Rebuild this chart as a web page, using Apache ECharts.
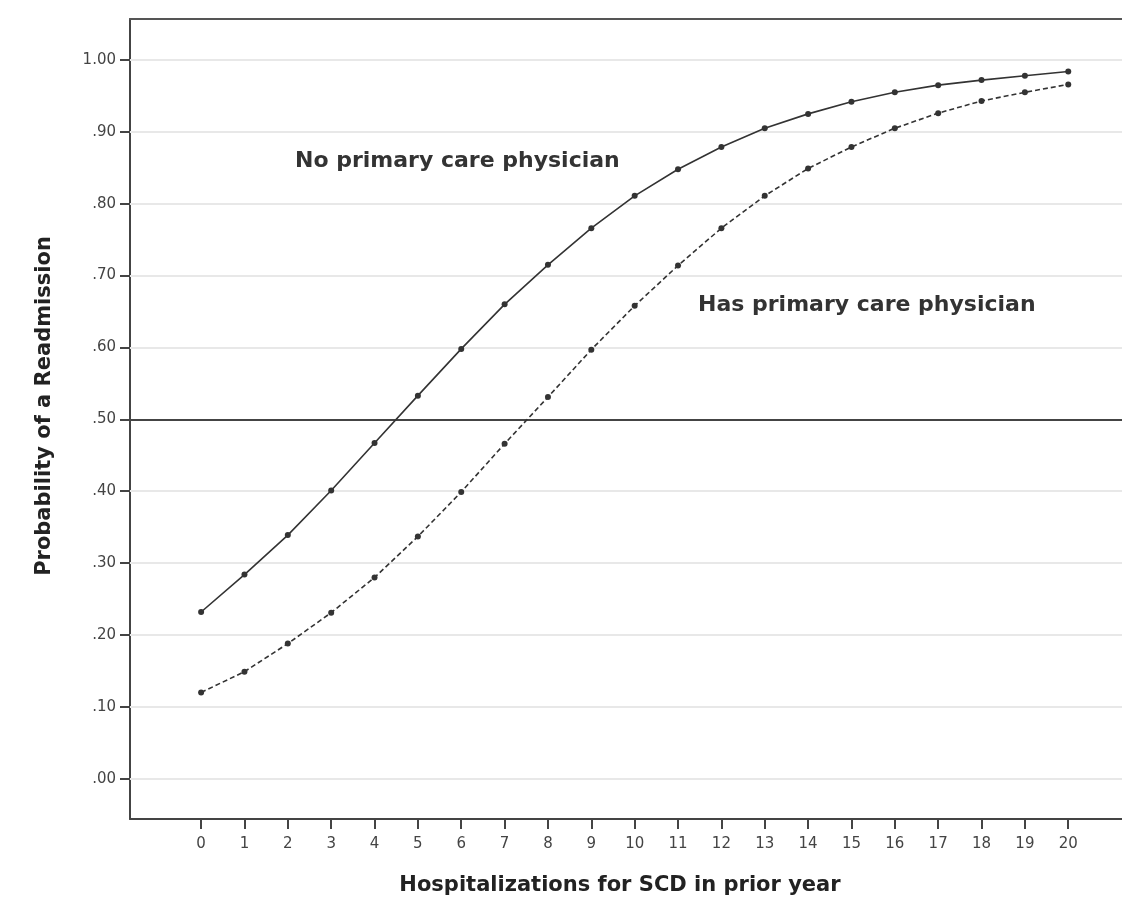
<!DOCTYPE html>
<html><head><meta charset="utf-8">
<script src="https://cdn.jsdelivr.net/npm/echarts@6/dist/echarts.min.js"></script>
<style>html,body{margin:0;padding:0;background:#fff}#c{width:1122px;height:904px}</style>
</head><body><div id="c"></div>
<script>
const hospitalizations = [0,1,2,3,4,5,6,7,8,9,10,11,12,13,14,15,16,17,18,19,20];
const noPCP = [0.232,0.284,0.339,0.401,0.467,0.533,0.598,0.660,0.715,0.766,0.811,0.848,0.879,0.905,0.925,0.942,0.955,0.965,0.972,0.978,0.984];
const hasPCP = [0.120,0.149,0.188,0.231,0.280,0.337,0.399,0.466,0.531,0.597,0.658,0.714,0.766,0.811,0.849,0.879,0.905,0.926,0.943,0.955,0.966];
const yTicks = [0,0.1,0.2,0.3,0.4,0.5,0.6,0.7,0.8,0.9,1.0];
const referenceLine = 0.5;
const labelNo = 'No primary care physician';
const labelHas = 'Has primary care physician';
const xTitle = 'Hospitalizations for SCD in prior year';
const yTitle = 'Probability of a Readmission';

const chart = echarts.init(document.getElementById('c'), null, {renderer:'canvas'});
const pairs = a => hospitalizations.map((x,i)=>[x,a[i]]);
const fmtY = v => { const s = v.toFixed(2); return v >= 1 ? s : s.replace(/^0/, ''); };
const FONT = 'DejaVu Sans, Verdana, sans-serif';

chart.setOption({
  animation:false,
  backgroundColor:'#fff',
  grid:{left:130, top:19, right:0, bottom:85},
  xAxis:[{
    type:'value', min:-1.64, max:21.24,
    axisLine:{show:true, onZero:false, lineStyle:{color:'#444', width:2}},
    axisTick:{show:true, customValues:hospitalizations, length:10, inside:false, lineStyle:{color:'#444', width:2}},
    axisLabel:{customValues:hospitalizations, margin:18, fontFamily:FONT, fontSize:15, color:'#444'},
    splitLine:{show:false}
  },{
    type:'value', position:'top', min:-1.64, max:21.24,
    axisLine:{show:true, onZero:false, lineStyle:{color:'#555', width:2}},
    axisTick:{show:false}, axisLabel:{show:false}, splitLine:{show:false}
  }],
  yAxis:{
    type:'value', min:-0.056, max:1.057,
    axisLine:{show:true, onZero:false, lineStyle:{color:'#444', width:2}},
    axisTick:{show:true, customValues:yTicks, length:10, lineStyle:{color:'#444', width:2}},
    axisLabel:{customValues:yTicks, margin:14, formatter:fmtY, fontFamily:FONT, fontSize:15, color:'#444'},
    splitLine:{show:false}
  },
  series:[
    {
      type:'line', name:'grid', data:[], silent:true, z:1,
      markLine:{
        silent:true, symbol:'none', label:{show:false}, animation:false, z:1,
        data: yTicks.filter(v=>v!==referenceLine).map(v=>({yAxis:v, lineStyle:{color:'#e8e8e8', width:2, type:'solid'}}))
          .concat([{yAxis:referenceLine, lineStyle:{color:'#444', width:2, type:'solid'}}])
      }
    },
    {
      type:'line', name:labelNo, data:pairs(noPCP), symbol:'circle', symbolSize:6,
      lineStyle:{color:'#333', width:1.6}, itemStyle:{color:'#333'}, z:3
    },
    {
      type:'line', name:labelHas, data:pairs(hasPCP), symbol:'circle', symbolSize:6,
      lineStyle:{color:'#333', width:1.6, type:[5,3]}, itemStyle:{color:'#333'}, z:3
    }
  ],
  graphic:[
    {type:'text', left:295, top:150, style:{text:labelNo, fontFamily:FONT, fontWeight:'bold', fontSize:22, fill:'#333'}},
    {type:'text', left:698, top:294, style:{text:labelHas, fontFamily:FONT, fontWeight:'bold', fontSize:22, fill:'#333'}},
    {type:'text', x:620, y:886, style:{text:xTitle, fontFamily:FONT, fontWeight:'bold', fontSize:21, fill:'#222', align:'center', verticalAlign:'middle'}},
    {type:'text', x:45, y:406, rotation:Math.PI/2, style:{text:yTitle, fontFamily:FONT, fontWeight:'bold', fontSize:21, fill:'#222', align:'center', verticalAlign:'middle'}}
  ]
});
</script></body></html>
